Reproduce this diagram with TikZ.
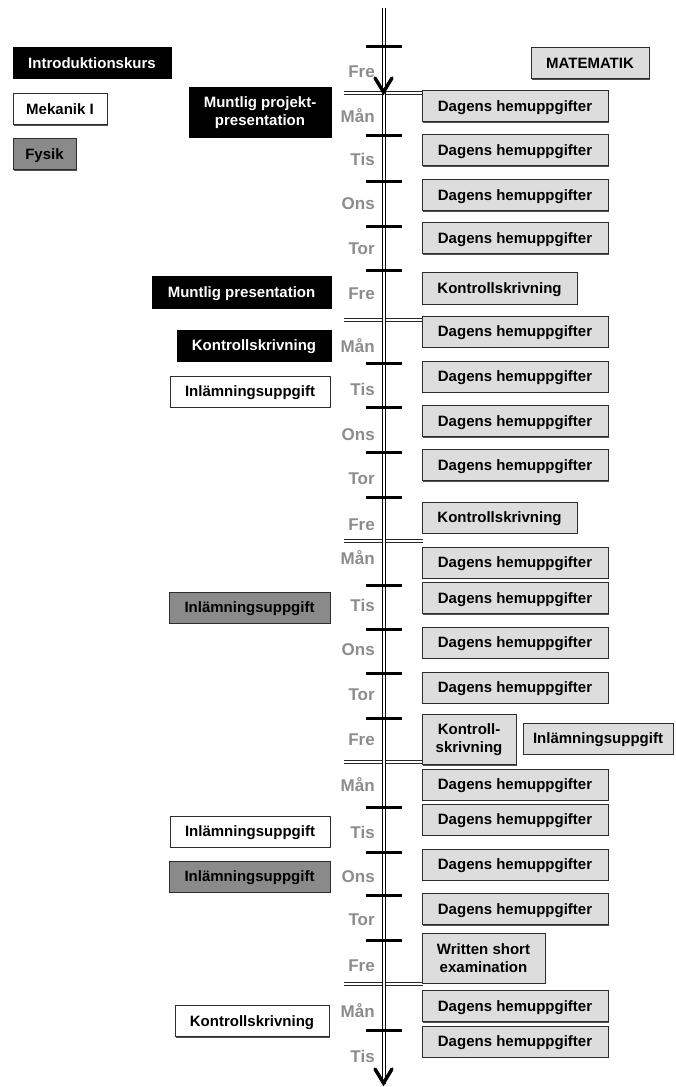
\documentclass[tikz,border=0pt]{standalone}
\usepackage{fontspec}
\setmainfont{Liberation Sans}
\usetikzlibrary{shadows}

\begin{document}
\begin{tikzpicture}[x=0.75pt,y=0.75pt,yscale=-1,xscale=1,
  boxbase/.style={draw={rgb, 255:red, 45; green, 45; blue, 45 }, line width=0.75pt, inner sep=0pt,
    minimum height=23.25pt, text height=8.1pt, text depth=0pt,
    font=\fontsize{11.25}{13.5}\selectfont\bfseries},
  box/.style={boxbase, drop shadow={shadow xshift=1pt, shadow yshift=-1pt, fill={rgb, 255:red, 80; green, 80; blue, 80 }, opacity=1}},
  lbox/.style={box, fill={rgb, 255:red, 221; green, 221; blue, 221 }},
  wbox/.style={box, fill=white},
  gbox/.style={box, fill={rgb, 255:red, 138; green, 138; blue, 138 }},
  bbox/.style={boxbase, fill=black, draw=black, text=white},
  two/.style={align=center, text height={}, text depth={}, minimum height=37.5pt},
  bw/.style={minimum width=#1*0.75pt},
  day/.style={anchor=east, inner sep=0pt, text height=9.2pt, text depth=0pt,
    text={rgb, 255:red, 140; green, 140; blue, 140 }, font=\fontsize{12.75}{14}\selectfont\bfseries},
  tick/.style={line width=2.25pt},
  week/.style={double, double distance=1.5pt, line width=0.75pt, draw={rgb, 255:red, 40; green, 40; blue, 40 }},
  axis/.style={double, double distance=1.5pt, line width=0.75pt},
  vtip/.style={line width=2.6pt, line cap=round, line join=miter}
]
\useasboundingbox (0,0) rectangle (675,1087);

% Legend
\node (intro) at (92,63.5) [bbox, bw=158] {Introduktionskurs};
\node (mek) at (60,109) [wbox, bw=94] {Mekanik I};
\node (fys) at (44.5,154) [gbox, bw=63] {Fysik};
\node (mat) at (590,63.5) [lbox, bw=118] {MATEMATIK};

% Week separators
\draw [week] (344,93.5) -- (423,93.5);
\draw [week] (344,319.5) -- (423,319.5);
\draw [week] (344,541) -- (423,541);
\draw [week] (344,762) -- (423,762);
\draw [week] (344,984) -- (423,984);

% Time axis
\coordinate (atop) at (383.5,8);
\coordinate (abot) at (383.5,1084);
\draw [axis] (atop) -- (abot);
\draw [vtip] (375,78) -- (383.5,92) -- (392,78);
\draw [vtip] (375,1069) -- (383.5,1083) -- (392,1069);

% Day ticks
\draw [tick] (366,47) -- (402,47);
\draw [tick] (366,136) -- (402,136);
\draw [tick] (366,182) -- (402,182);
\draw [tick] (366,227) -- (402,227);
\draw [tick] (366,271) -- (402,271);
\draw [tick] (366,363) -- (402,363);
\draw [tick] (366,407) -- (402,407);
\draw [tick] (366,452) -- (402,452);
\draw [tick] (366,497) -- (402,497);
\draw [tick] (366,585) -- (402,585);
\draw [tick] (366,629) -- (402,629);
\draw [tick] (366,673) -- (402,673);
\draw [tick] (366,718) -- (402,718);
\draw [tick] (366,807) -- (402,807);
\draw [tick] (366,852) -- (402,852);
\draw [tick] (366,895) -- (402,895);
\draw [tick] (366,940) -- (402,940);
\draw [tick] (366,1030) -- (402,1030);

% Day labels
\node (fre0) at (375,71) [day] {Fre};
\node (man1) at (375,116) [day] {Mån};
\node (tis1) at (375,159) [day] {Tis};
\node (ons1) at (375,203) [day] {Ons};
\node (tor1) at (375,248) [day] {Tor};
\node (fre1) at (375,293) [day] {Fre};
\node (man2) at (375,346) [day] {Mån};
\node (tis2) at (375,389) [day] {Tis};
\node (ons2) at (375,434) [day] {Ons};
\node (tor2) at (375,478) [day] {Tor};
\node (fre2) at (375,524) [day] {Fre};
\node (man3) at (375,558) [day] {Mån};
\node (tis3) at (375,605) [day] {Tis};
\node (ons3) at (375,649) [day] {Ons};
\node (tor3) at (375,694) [day] {Tor};
\node (fre3) at (375,739) [day] {Fre};
\node (man4) at (375,785) [day] {Mån};
\node (tis4) at (375,832) [day] {Tis};
\node (ons4) at (375,876) [day] {Ons};
\node (tor4) at (375,919) [day] {Tor};
\node (fre4) at (375,965) [day] {Fre};
\node (man5) at (375,1011) [day] {Mån};
\node (tis5) at (375,1056) [day] {Tis};

% Fysik / Mekanik tasks
\node (mpp) at (260,113) [bbox, two, bw=142] {Muntlig projekt-\\presentation};
\node (mpres) at (241.5,292.5) [bbox, bw=179] {Muntlig presentation};
\node (ks1) at (254,345.5) [bbox, bw=154] {Kontrollskrivning};
\node (inl1) at (250,391.5) [wbox, bw=160] {Inlämningsuppgift};
\node (inl2) at (249.5,607.5) [gbox, bw=161] {Inlämningsuppgift};
\node (inl3) at (250,831.5) [wbox, bw=160] {Inlämningsuppgift};
\node (inl4) at (249.5,876.5) [gbox, bw=161] {Inlämningsuppgift};
\node (ks2) at (252,1021) [wbox, bw=154] {Kontrollskrivning};

% Matematik tasks
\node (h11) at (515,106) [lbox, bw=186] {Dagens hemuppgifter};
\node (h12) at (515,150.5) [lbox, bw=186] {Dagens hemuppgifter};
\node (h13) at (515,195) [lbox, bw=186] {Dagens hemuppgifter};
\node (h14) at (515,238.5) [lbox, bw=186] {Dagens hemuppgifter};
\node (kr1) at (499.5,288.5) [lbox, bw=155] {Kontrollskrivning};
\node (h21) at (515,331.5) [lbox, bw=186] {Dagens hemuppgifter};
\node (h22) at (515,376.5) [lbox, bw=186] {Dagens hemuppgifter};
\node (h23) at (515,421) [lbox, bw=186] {Dagens hemuppgifter};
\node (h24) at (515,465) [lbox, bw=186] {Dagens hemuppgifter};
\node (kr2) at (499.5,517.5) [lbox, bw=155] {Kontrollskrivning};
\node (h31) at (515,562.5) [lbox, bw=186] {Dagens hemuppgifter};
\node (h32) at (515,598) [lbox, bw=186] {Dagens hemuppgifter};
\node (h33) at (515,642.5) [lbox, bw=186] {Dagens hemuppgifter};
\node (h34) at (515,687.5) [lbox, bw=186] {Dagens hemuppgifter};
\node (kr3) at (469,739.5) [lbox, two, bw=94] {Kontroll-\\skrivning};
\node (inl5) at (598,738.5) [lbox, bw=150] {Inlämningsuppgift};
\node (h41) at (515,784.5) [lbox, bw=186] {Dagens hemuppgifter};
\node (h42) at (515,819.5) [lbox, bw=186] {Dagens hemuppgifter};
\node (h43) at (515,864.5) [lbox, bw=186] {Dagens hemuppgifter};
\node (h44) at (515,909) [lbox, bw=186] {Dagens hemuppgifter};
\node (wse) at (483.5,958) [lbox, two, bw=123] {Written short\\examination};
\node (h51) at (515,1006) [lbox, bw=186] {Dagens hemuppgifter};
\node (h52) at (515,1041.5) [lbox, bw=186] {Dagens hemuppgifter};

\end{tikzpicture}
\end{document}
